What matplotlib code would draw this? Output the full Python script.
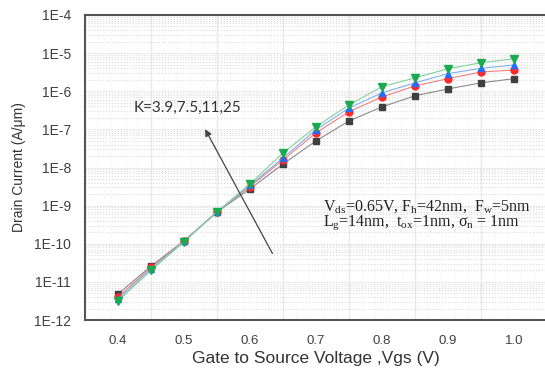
import matplotlib
matplotlib.use('Agg')
import matplotlib.pyplot as plt
import numpy as np
from matplotlib.ticker import FuncFormatter, LogLocator, FixedLocator

plt.rcParams['mathtext.fontset'] = 'custom'
plt.rcParams['mathtext.rm'] = 'Liberation Serif'
plt.rcParams['mathtext.it'] = 'Liberation Serif:italic'
plt.rcParams['font.family'] = ['Liberation Sans', 'DejaVu Sans']

vgs = [0.40, 0.45, 0.50, 0.55, 0.60, 0.65, 0.70, 0.75, 0.80, 0.85, 0.90, 0.95, 1.00]
id_k39 = [4.8e-12, 2.6e-11, 1.2e-10, 6.8e-10, 2.75e-9, 1.23e-8, 5.0e-8, 1.66e-7, 3.9e-7, 7.6e-7, 1.15e-6, 1.66e-6, 2.14e-6]
id_k75 = [4.0e-12, 2.4e-11, 1.17e-10, 6.8e-10, 3.16e-9, 1.58e-8, 8.1e-8, 2.9e-7, 7.1e-7, 1.38e-6, 2.14e-6, 3.2e-6, 3.6e-6]
id_k11 = [3.55e-12, 2.2e-11, 1.15e-10, 6.8e-10, 3.4e-9, 1.78e-8, 9.8e-8, 3.6e-7, 9.1e-7, 1.66e-6, 2.9e-6, 4.0e-6, 4.9e-6]
id_k25 = [3.16e-12, 2.0e-11, 1.12e-10, 6.9e-10, 3.7e-9, 2.4e-8, 1.17e-7, 4.4e-7, 1.32e-6, 2.24e-6, 3.9e-6, 5.6e-6, 7.1e-6]

fig = plt.figure(figsize=(5.45, 3.74), dpi=100)
ax = fig.add_axes([85 / 545, 54 / 374, 462 / 545, 305 / 374])

ax.set_yscale('log')
ax.set_xlim(0.35, 1.05)
ax.set_ylim(1e-12, 1e-4)

# background grid
ax.yaxis.set_minor_locator(LogLocator(base=10, subs=np.arange(2, 10)))
ax.grid(which='minor', axis='y', color='#d9d9d9', linestyle=':', linewidth=0.8)
ax.grid(which='major', axis='y', color='#ececec', linestyle='-', linewidth=0.8)
ax.xaxis.set_minor_locator(FixedLocator(np.arange(0.35, 1.05, 0.02)))
ax.grid(which='minor', axis='x', color='#efefef', linestyle=':', linewidth=0.6)
for xv in np.arange(0.45, 1.05, 0.1):
    ax.axvline(xv, color='#e8e8e8', linewidth=1.0, zorder=0.5)
ax.set_axisbelow(True)

ax.plot(vgs, id_k39, color='#8a8a8a', lw=0.8, marker='s', ms=4.5, mfc='#404040', mec='#404040')
ax.plot(vgs, id_k75, color='#f08080', lw=0.8, marker='o', ms=5, mfc='#ff2a2a', mec='#ff2a2a')
ax.plot(vgs, id_k11, color='#80b0f0', lw=0.8, marker='^', ms=5, mfc='#1f6fff', mec='#1f6fff')
ax.plot(vgs, id_k25, color='#80d0a0', lw=0.8, marker='v', ms=5.5, mfc='#1aaa50', mec='#1aaa50')

ax.set_xticks([0.4, 0.5, 0.6, 0.7, 0.8, 0.9, 1.0])
ax.xaxis.set_major_formatter(FuncFormatter(lambda v, p: '%.1f' % v))
ax.yaxis.set_major_formatter(FuncFormatter(lambda v, p: '1E%d' % round(np.log10(v))))
ax.tick_params(which='both', length=0, colors='#404040')
ax.tick_params(axis='y', labelsize=10, pad=10)
ax.tick_params(axis='x', labelsize=9.5, pad=11)

for s in ['left', 'bottom', 'top']:
    ax.spines[s].set_color('#555555')
    ax.spines[s].set_linewidth(1.5)
ax.spines['right'].set_visible(False)

ax.set_xlabel('Gate to Source Voltage ,Vgs (V)', fontsize=12.5, color='#333333', labelpad=3)
ax.set_ylabel('Drain Current (A/\u03bcm)', fontsize=10, color='#333333', labelpad=6)

ax.text(0.424, 3.6e-7, 'K=3.9,7.5,11,25', fontsize=11, color='#333333', va='center', family='Lato')
ax.annotate('', xy=(0.530, 1.17e-7), xytext=(0.636, 4.8e-11),
            arrowprops=dict(arrowstyle='-|>', color='#444444', lw=0.9, mutation_scale=10))

ax.text(0.711, 9.3e-10, r'V$_{\mathrm{ds}}$=0.65V, F$_{\mathrm{h}}$=42nm,  F$_{\mathrm{w}}$=5nm',
        fontsize=11.5, family='Liberation Serif', va='center', color='#222222')
ax.text(0.711, 3.5e-10, r'L$_{\mathrm{g}}$=14nm,  t$_{\mathrm{ox}}$=1nm, $\mathrm{\sigma}_{\mathrm{n}}$ = 1nm',
        fontsize=11.5, family='Liberation Serif', va='center', color='#222222')

fig.savefig('out.png', dpi=100)
